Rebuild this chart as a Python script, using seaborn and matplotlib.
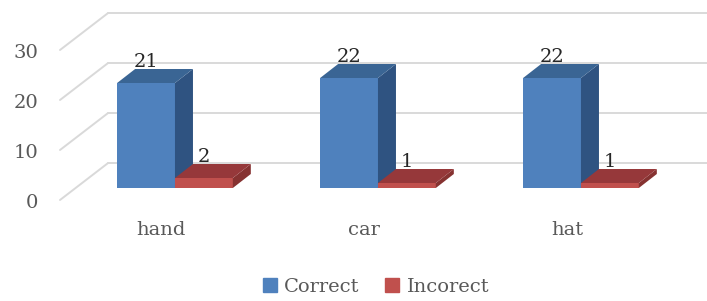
import pandas as pd
import matplotlib
matplotlib.use("Agg")
import matplotlib.pyplot as plt
import matplotlib.transforms as mtransforms
from matplotlib.patches import Polygon, Patch
import seaborn as sns

# ---------- Data ----------
words = ["hand", "car", "hat"]
correct = [21, 22, 22]
incorrect = [2, 1, 1]
series = ["Correct", "Incorect"]
y_ticks = [0, 10, 20, 30]

df = pd.DataFrame({
    "word": words * 2,
    "result": [series[0]] * 3 + [series[1]] * 3,
    "count": correct + incorrect,
})

# colours (front, top, side)
blue = ("#4f81bd", "#3a6594", "#2f5381")
red = ("#c0504d", "#96383a", "#863231")
grid_c = "#d9d9d9"
text_c = "#595959"

sns.set_style("white")
plt.rcParams["font.family"] = ["DejaVu Serif", "DejaVu Sans"]

W, H = 707, 301
fig = plt.figure(figsize=(W / 100, H / 100), dpi=100)
# axes = the plane where the bar fronts sit (5 px per unit, 203 px per category)
ax_left, ax_bottom = 75.5, 113
xlim = (-0.49, 2.6)
ax = fig.add_axes([ax_left / W, ax_bottom / H, (xlim[1] - xlim[0]) * 203 / W, 150 / H])

sns.barplot(data=df, x="word", y="count", hue="result", palette=[blue[0], red[0]],
            width=0.57, dodge=True, legend=False, saturation=1, ax=ax, zorder=3,
            linewidth=0, edgecolor="none")
ax.set_xlim(*xlim)
ax.set_ylim(0, 30)
ax.set_xlabel("")
ax.set_ylabel("")
sns.despine(ax=ax, left=True, bottom=True)
ax.tick_params(length=0)


def shifted(dx, dy):
    return ax.transData + mtransforms.ScaledTranslation(dx / 100, dy / 100, fig.dpi_scale_trans)


back = shifted(32.6, 25)     # back wall
front = shifted(-15.5, -12)  # front edge of the floor

# back wall gridlines and the left side wall lines
for v in y_ticks:
    ax.plot([xlim[0], 4], [v, v], color=grid_c, lw=1.4, transform=back, clip_on=False, zorder=0)
    p0 = front.transform((xlim[0], v))
    p1 = back.transform((xlim[0], v))
    ax.plot([p0[0], p1[0]], [p0[1], p1[1]], color=grid_c, lw=1.4,
            transform=None, clip_on=False, zorder=0)

# 3-D faces (top and side) for each bar, drawn left to right
ddx, ddy = 18, 14
bars = sorted(ax.patches, key=lambda b: b.get_x())
for i, bar in enumerate(bars):
    cols = blue if bar.get_facecolor()[2] > 0.5 else red
    x0, x1 = bar.get_x(), bar.get_x() + bar.get_width()
    top = bar.get_height()
    a = ax.transData.transform([(x0, 0), (x1, top)])
    (px0, py0), (px1, py1) = a
    z = 3 + i * 0.1
    bar.set_zorder(z)
    top_face = [(px0, py1), (px1, py1), (px1 + ddx, py1 + ddy), (px0 + ddx, py1 + ddy)]
    side_face = [(px1, py0), (px1 + ddx, py0 + ddy), (px1 + ddx, py1 + ddy), (px1, py1)]
    ax.add_patch(Polygon(side_face, closed=True, fc=cols[2], ec="none", transform=None, zorder=z))
    ax.add_patch(Polygon(top_face, closed=True, fc=cols[1], ec="none", transform=None, zorder=z))
    ax.annotate(f"{top:g}", ((x0 + x1) / 2, top), xytext=(0, 16 * 0.72), textcoords="offset points",
                ha="center", va="baseline", fontsize=14, color="#262626", zorder=10)

# category labels on the front edge
ax.set_xticks(range(len(words)))
ax.set_xticklabels(words, fontsize=14, color=text_c)
ax.tick_params(axis="x", pad=24)
for lab in ax.get_xticklabels():
    lab.set_transform(lab.get_transform() + mtransforms.ScaledTranslation(-0.14, 0, fig.dpi_scale_trans))

ax.set_yticks(y_ticks)
ax.set_yticklabels([str(v) for v in y_ticks], fontsize=14, color=text_c)
ax.tick_params(axis="y", pad=27)
for lab in ax.get_yticklabels():
    lab.set_transform(lab.get_transform() + mtransforms.ScaledTranslation(0, -0.13, fig.dpi_scale_trans))
ax.grid(False)

handles = [Patch(color=blue[0], label=series[0]), Patch(color=red[0], label=series[1])]
fig.legend(handles=handles, loc="center", bbox_to_anchor=(376 / W, 1 - 287 / H), ncol=2,
           frameon=False, fontsize=14, handlelength=0.7, handleheight=0.7,
           handletextpad=0.4, columnspacing=1.3, labelcolor=text_c)

fig.savefig("out.png", dpi=100)
